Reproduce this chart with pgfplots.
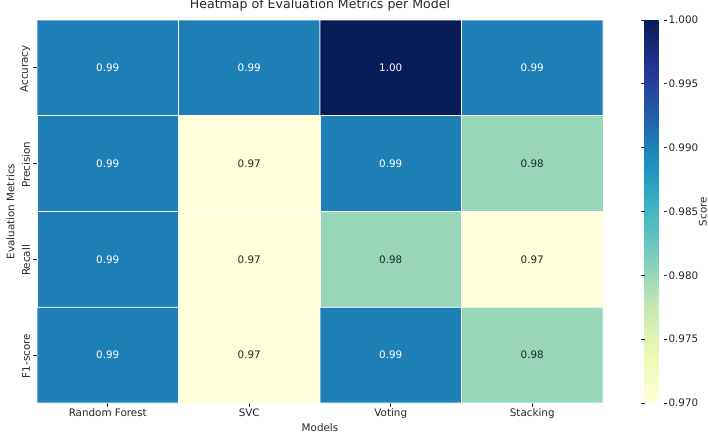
\documentclass[border=0pt]{standalone}
\usepackage{fontspec}
\setmainfont{DejaVu Sans}
\usepackage{pgfplots}
\pgfplotsset{compat=1.18}

\definecolor{annodark}{HTML}{262626}

\pgfplotsset{
  colormap={YlGnBu}{
    rgb255=(255,255,217) rgb255=(237,248,177) rgb255=(199,233,180)
    rgb255=(127,205,187) rgb255=(65,182,196)  rgb255=(29,145,192)
    rgb255=(34,94,168)   rgb255=(37,52,148)   rgb255=(8,29,88)
  },
}

% Scores: column = model, row = metric
\pgfplotstableread{
x y v
0 0 0.99
1 0 0.99
2 0 1.00
3 0 0.99
0 1 0.99
1 1 0.97
2 1 0.99
3 1 0.98
0 2 0.99
1 2 0.97
2 2 0.98
3 2 0.97
0 3 0.99
1 3 0.97
2 3 0.99
3 3 0.98
}\scores

% Annotation labels on dark cells
\pgfplotstableread{
x y lab
0 0 0.99
1 0 0.99
2 0 1.00
3 0 0.99
0 1 0.99
2 1 0.99
0 2 0.99
0 3 0.99
2 3 0.99
}\darkcells

% Annotation labels on light cells
\pgfplotstableread{
x y lab
1 1 0.97
3 1 0.98
1 2 0.97
2 2 0.98
3 2 0.97
1 3 0.97
3 3 0.98
}\lightcells

\newcommand{\lblfont}{\fontsize{10.4}{12.5}\selectfont}

\begin{document}
\begin{tikzpicture}
\path[use as bounding box] (0,0) rectangle (708bp,437bp);
\begin{axis}[
  at={(37bp,34bp)}, anchor=south west,
  scale only axis, width=566bp, height=383bp,
  xmin=-0.5, xmax=3.5, ymin=-0.5, ymax=3.5, y dir=reverse,
  xtick={0,1,2,3}, xticklabels={Random Forest,SVC,Voting,Stacking},
  ytick={0,1,2,3}, yticklabels={Accuracy,Precision,Recall,F1-score},
  tick align=outside, tick pos=left, major tick length=3.5bp,
  tick style={annodark, line width=0.8bp},
  axis line style={draw=none},
  ticklabel style={font=\lblfont, text=annodark},
  xticklabel style={yshift=1bp},
  yticklabel style={rotate=90, anchor=south, xshift=-1bp},
  title={Heatmap of Evaluation Metrics per Model},
  title style={font=\fontsize{12.6}{15}\selectfont, text=annodark,
    at={(0.5,1)}, anchor=base, yshift=5.5bp},
  xlabel={Models}, ylabel={Evaluation Metrics},
  label style={font=\lblfont, text=annodark},
  xlabel style={yshift=2bp},
  ylabel style={yshift=-1bp},
  colormap name=YlGnBu,
  point meta min=0.97, point meta max=1.0,
  colorbar,
  colorbar style={
    width=19bp,
    at={(parent axis.north east)}, anchor=north west, xshift=33bp,
    ytick={0.970,0.975,0.980,0.985,0.990,0.995,1.000},
    yticklabel style={/pgf/number format/.cd, fixed, fixed zerofill, precision=3, assume math mode=true,
      /tikz/.cd, font=\lblfont, text=annodark, xshift=-2bp},
    axis line style={draw=none},
    tick align=outside, major tick length=3.5bp,
    tick style={annodark, line width=0.8bp},
    ylabel={Score},
    ylabel style={font=\lblfont, text=annodark,
      at={(axis description cs:1,0.5)}, anchor=north, yshift=-32bp},
  },
]
\addplot[matrix plot*, mesh/cols=4, point meta=explicit, draw=white, line width=0.8bp]
  table[x=x, y=y, meta=v] {\scores};
\addplot[only marks, mark=none, point meta=explicit symbolic, nodes near coords,
  nodes near coords style={anchor=center, text=white, font=\lblfont}]
  table[x=x, y=y, meta=lab] {\darkcells};
\addplot[only marks, mark=none, point meta=explicit symbolic, nodes near coords,
  nodes near coords style={anchor=center, text=annodark, font=\lblfont}]
  table[x=x, y=y, meta=lab] {\lightcells};
\end{axis}
\end{tikzpicture}
\end{document}
